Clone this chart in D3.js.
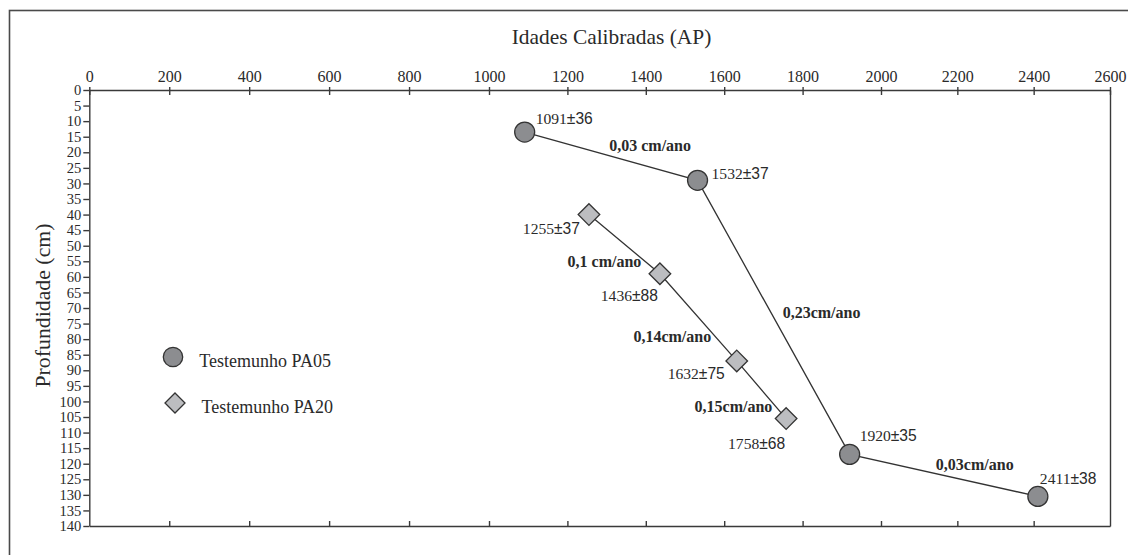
<!DOCTYPE html>
<html>
<head>
<meta charset="utf-8">
<script src="https://cdn.jsdelivr.net/npm/d3@7"></script>
<style>
  body { margin: 0; background: #fff; }
  svg { display: block; }
  text { fill: #2a2a2a; font-family: "Liberation Serif", "Times New Roman", serif; }
  .axis path, .axis line { stroke: #3a3a3a; stroke-width: 1.4px; }
</style>
</head>
<body>
<div id="chart"></div>
<script>
// idades calibradas (AP) e profundidades (cm)
const agesPA05 = [1091, 1532, 1920, 2411];
const errPA05 = [36, 37, 35, 38];
const depthPA05 = [13.5, 29, 117, 130.5];
const ratesPA05 = ["0,03 cm/ano", "0,23cm/ano", "0,03cm/ano"];

const agesPA20 = [1255, 1436, 1632, 1758];
const errPA20 = [37, 88, 75, 68];
const depthPA20 = [40, 59, 87, 105.5];
const ratesPA20 = ["0,1 cm/ano", "0,14cm/ano", "0,15cm/ano"];

const xTicks = d3.range(0, 2601, 200);
const yTicks = d3.range(0, 141, 5);
const legendNames = ["Testemunho PA05", "Testemunho PA20"];

const width = 1128, height = 555;
const svg = d3.select("#chart").append("svg")
  .attr("width", width).attr("height", height);

// o eixo original nao e perfeitamente linear, entao uso escala por partes
const x = d3.scaleLinear().domain([0, 1000, 2000, 2600]).range([89.3, 489, 881, 1110]);
const y = d3.scaleLinear().domain([0, 140]).range([90, 526]);

// moldura externa
svg.append("rect")
  .attr("x", 9.5).attr("y", 10.5)
  .attr("width", 1140).attr("height", 560)
  .attr("fill", "none").attr("stroke", "#4a4a4a").attr("stroke-width", 1.6);

// eixo superior
const gTop = svg.append("g").attr("class", "axis")
  .attr("transform", `translate(0,${y(0)})`)
  .call(d3.axisTop(x).tickValues(xTicks).tickSize(-5).tickSizeOuter(0).tickPadding(8).tickFormat(d3.format("d")));
gTop.selectAll(".tick line").attr("y1", -3);
gTop.selectAll(".tick text").style("font-size", "16px").attr("fill", "#2a2a2a");

// eixo inferior (somente marcas)
svg.append("g").attr("class", "axis")
  .attr("transform", `translate(0,${y(140)})`)
  .call(d3.axisBottom(x).tickValues(xTicks.slice(1, -1)).tickSize(-5).tickSizeOuter(0).tickFormat(""));

// eixo esquerdo
const gLeft = svg.append("g").attr("class", "axis")
  .attr("transform", `translate(${x(0)},0)`)
  .call(d3.axisLeft(y).tickValues(yTicks).tickSize(6).tickSizeOuter(0).tickPadding(2));
gLeft.selectAll(".tick text").style("font-size", "14.6px").attr("fill", "#2a2a2a");

// borda direita
svg.append("g").attr("class", "axis")
  .attr("transform", `translate(${x(2600)},0)`)
  .call(d3.axisRight(y).tickValues([]).tickSizeOuter(0));

// titulos
svg.append("text")
  .attr("x", 611.5).attr("y", 44)
  .attr("text-anchor", "middle")
  .style("font-size", "21.4px")
  .text("Idades Calibradas (AP)");

svg.append("text")
  .attr("transform", "translate(50,305.5) rotate(-90)")
  .attr("text-anchor", "middle")
  .style("font-size", "21.8px")
  .text("Profundidade (cm)");

const pa05 = agesPA05.map((a, i) => ({ age: a, err: errPA05[i], depth: depthPA05[i] }));
const pa20 = agesPA20.map((a, i) => ({ age: a, err: errPA20[i], depth: depthPA20[i] }));

const line = d3.line().x(d => x(d.age)).y(d => y(d.depth));
[pa05, pa20].forEach(s => {
  svg.append("path").datum(s)
    .attr("d", line)
    .attr("fill", "none").attr("stroke", "#333").attr("stroke-width", 1.3);
});

const circleFill = "#8c8d90", diamondFill = "#bcbdc0", markStroke = "#333";
const diamond = (cx, cy, r) => `M${cx},${cy - r}L${cx + r},${cy}L${cx},${cy + r}L${cx - r},${cy}Z`;

svg.selectAll(".c05").data(pa05).enter().append("circle")
  .attr("cx", d => x(d.age)).attr("cy", d => y(d.depth)).attr("r", 10)
  .attr("fill", circleFill).attr("stroke", markStroke).attr("stroke-width", 1.3);

svg.selectAll(".d20").data(pa20).enter().append("path")
  .attr("d", d => diamond(x(d.age), y(d.depth), 10.8))
  .attr("fill", diamondFill).attr("stroke", markStroke).attr("stroke-width", 1.3);

// rotulos das idades (numero serif, ±erro em sans)
function ageLabel(d, dx, dy, anchor) {
  const t = svg.append("text")
    .attr("x", x(d.age) + dx).attr("y", y(d.depth) + dy)
    .attr("text-anchor", anchor)
    .style("font-size", "15.6px");
  t.append("tspan").text(d.age);
  t.append("tspan").style("font-family", "'Liberation Sans', Arial, sans-serif").text("±" + d.err);
}
const off05 = [[11, -8, "start"], [14, -1, "start"], [10, -13, "start"], [2, -12, "start"]];
const off20 = [[-9, 19, "end"], [-2, 27, "end"], [-12, 18, "end"], [-1, 30, "end"]];
pa05.forEach((d, i) => ageLabel(d, ...off05[i]));
pa20.forEach((d, i) => ageLabel(d, ...off20[i]));

// taxas de sedimentacao
function rateLabels(s, rates, offs) {
  rates.forEach((r, i) => {
    const mx = (x(s[i].age) + x(s[i + 1].age)) / 2;
    const my = (y(s[i].depth) + y(s[i + 1].depth)) / 2;
    svg.append("text")
      .attr("x", mx + offs[i][0]).attr("y", my + offs[i][1])
      .attr("text-anchor", "middle")
      .style("font-size", "16px").style("font-weight", "bold")
      .text(r);
  });
}
rateLabels(pa05, ratesPA05, [[39, -5], [48, 1], [31, -5]]);
rateLabels(pa20, ratesPA20, [[-20, 23], [-26, 25], [-28, 22]]);

// legenda
const legend = svg.append("g");
legend.append("circle").attr("cx", 173).attr("cy", 357).attr("r", 9.7)
  .attr("fill", circleFill).attr("stroke", markStroke).attr("stroke-width", 1.3);
legend.append("path").attr("d", diamond(175, 403, 10))
  .attr("fill", diamondFill).attr("stroke", markStroke).attr("stroke-width", 1.3);
legend.selectAll(".lt").data(legendNames).enter().append("text")
  .attr("x", (d, i) => i ? 201.5 : 199.3)
  .attr("y", (d, i) => i ? 412.7 : 366.7)
  .style("font-size", "18px")
  .text(d => d);
</script>
</body>
</html>
